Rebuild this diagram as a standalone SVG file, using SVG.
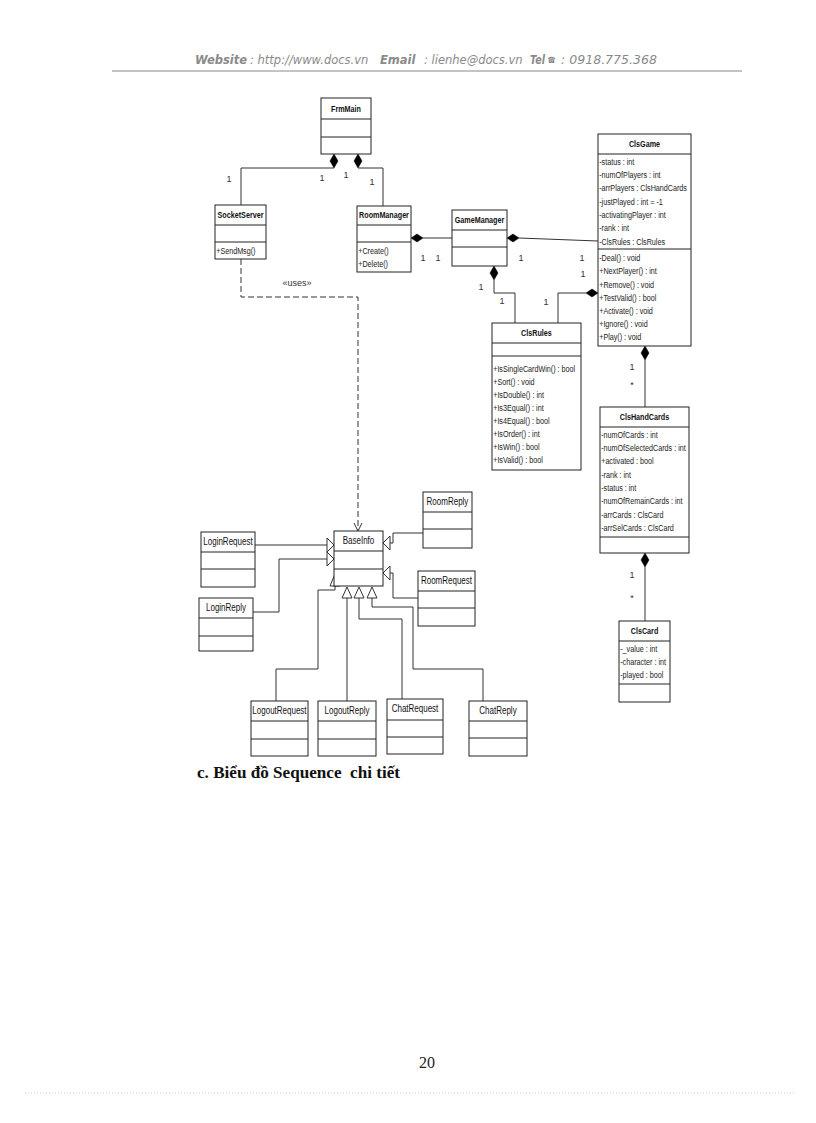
<svg xmlns="http://www.w3.org/2000/svg" width="816" height="1123" viewBox="0 0 816 1123">
<style>
.box{fill:#fff;stroke:#222;stroke-width:1}
.dv{stroke:#222;stroke-width:1}
.nb{font-family:"Liberation Sans",Arial,sans-serif;font-weight:bold;font-size:9px;text-anchor:middle;fill:#111}
.nr{font-family:"Liberation Sans",Arial,sans-serif;font-size:10px;text-anchor:middle;fill:#111}
.t{font-family:"Liberation Sans",Arial,sans-serif;font-size:9px;fill:#222}
.ml{font-family:"Liberation Sans",Arial,sans-serif;font-size:9px;fill:#333}
.c{fill:none;stroke:#333;stroke-width:1}
.dash{stroke-dasharray:6 3}
.dia{fill:#000;stroke:#000;stroke-width:0.5}
.tri{fill:#fff;stroke:#333;stroke-width:1}
.hd{font-family:"DejaVu Sans",Verdana,sans-serif;font-style:italic;font-size:11.5px;fill:#8a8a8a}
.hb{font-weight:bold}
</style>
<rect width="816" height="1123" fill="#fff"/>

<g id="header">
<text class="hd" y="64"><tspan class="hb" x="195">Website</tspan><tspan x="250">: http://www.docs.vn</tspan><tspan class="hb" x="380">Email</tspan><tspan x="424">: lienhe@docs.vn</tspan></text>
<text class="hd hb" x="530" y="64" textLength="15" lengthAdjust="spacingAndGlyphs">Tel</text>
<text x="547.5" y="63" font-family="'DejaVu Sans',sans-serif" font-size="8.5" fill="#8a8a8a" textLength="8" lengthAdjust="spacingAndGlyphs">☎</text>
<text class="hd" x="561" y="64" textLength="96" lengthAdjust="spacingAndGlyphs">: 0918.775.368</text>
<line x1="112" y1="71" x2="742" y2="71" stroke="#888" stroke-width="1"/>
</g>

<g id="connectors">
<polygon class="dia" points="334,154 338,161 334,168 330,161"/>
<path class="c" d="M334,168 H241 V205"/>
<polygon class="dia" points="358,154 362,161 358,168 354,161"/>
<path class="c" d="M358,168 H383 V206"/>
<polygon class="dia" points="411,238 417,234 423,238 417,242"/>
<path class="c" d="M423,238 H452"/>
<polygon class="dia" points="507,238 513,234 519,238 513,242"/>
<path class="c" d="M519,238 L598,241"/>
<polygon class="dia" points="494,266 498,273 494,280 490,273"/>
<path class="c" d="M494,280 V293 H515 V323"/>
<polygon class="dia" points="598,293 592,289 586,293 592,297"/>
<path class="c" d="M586,293 H558 V323"/>
<polygon class="dia" points="645,346 649,353 645,360 641,353"/>
<path class="c" d="M645,360 V407"/>
<polygon class="dia" points="645,553 649,560 645,567 641,560"/>
<path class="c" d="M645,567 V621"/>
<path class="c dash" d="M241,259 V297 H358 V530"/>
<path class="c" d="M354,523 L358,531 L362,523"/>
<text class="ml" x="297" y="286" text-anchor="middle" font-size="8">«uses»</text>
<path class="c" d="M255,545 H327"/>
<polygon class="tri" points="334,545 327,538 327,552"/>
<path class="c" d="M253,612 H279 V559 H327"/>
<polygon class="tri" points="334,559 327,552 327,566"/>
<path class="c" d="M423,533 H393 V543 H390"/>
<polygon class="tri" points="383,543 390,536 390,550"/>
<path class="c" d="M418,598 H393 V573 H390"/>
<polygon class="tri" points="383,573 390,566 390,580"/>
<path class="c" d="M335,586 V590 H318 V669 H276 V701"/>
<polygon class="tri" points="335,574 340,586 330,586"/>
<path class="c" d="M347,598 V701"/>
<polygon class="tri" points="347,587 352,598 342,598"/>
<path class="c" d="M359,598 V619 H402 V699"/>
<polygon class="tri" points="359,587 364,598 354,598"/>
<path class="c" d="M372,598 V607 H413 V669 H483 V701"/>
<polygon class="tri" points="372,587 377,598 367,598"/>
<text class="ml" x="229" y="182" text-anchor="middle">1</text>
<text class="ml" x="322" y="181" text-anchor="middle">1</text>
<text class="ml" x="346" y="178" text-anchor="middle">1</text>
<text class="ml" x="372" y="185" text-anchor="middle">1</text>
<text class="ml" x="423" y="261" text-anchor="middle">1</text>
<text class="ml" x="438" y="261" text-anchor="middle">1</text>
<text class="ml" x="521" y="261" text-anchor="middle">1</text>
<text class="ml" x="582" y="261" text-anchor="middle">1</text>
<text class="ml" x="583" y="277" text-anchor="middle">1</text>
<text class="ml" x="481" y="290" text-anchor="middle">1</text>
<text class="ml" x="502" y="304" text-anchor="middle">1</text>
<text class="ml" x="546" y="305" text-anchor="middle">1</text>
<text class="ml" x="632" y="370" text-anchor="middle">1</text>
<text class="ml" x="632" y="388" text-anchor="middle">*</text>
<text class="ml" x="632" y="578" text-anchor="middle">1</text>
<text class="ml" x="632" y="601" text-anchor="middle">*</text>
</g>

<g id="FrmMain">
<rect class="box" x="321" y="98" width="50" height="56"/>
<line class="dv" x1="321" y1="119" x2="371" y2="119"/>
<line class="dv" x1="321" y1="137" x2="371" y2="137"/>
<g transform="translate(321,0) scale(0.8,1)"><text class="nb" x="31.25" y="112">FrmMain</text></g>
</g>

<g id="SocketServer">
<rect class="box" x="215" y="205" width="51" height="54"/>
<line class="dv" x1="215" y1="225" x2="266" y2="225"/>
<line class="dv" x1="215" y1="242" x2="266" y2="242"/>
<g transform="translate(215,0) scale(0.8,1)"><text class="nb" x="31.9" y="218">SocketServer</text><text class="t" x="1.5" y="254">+SendMsg()</text></g>
</g>

<g id="RoomManager">
<rect class="box" x="357" y="206" width="54" height="66"/>
<line class="dv" x1="357" y1="225" x2="411" y2="225"/>
<line class="dv" x1="357" y1="242" x2="411" y2="242"/>
<g transform="translate(357,0) scale(0.8,1)"><text class="nb" x="33.75" y="218">RoomManager</text><text class="t" x="1.5" y="254">+Create()</text><text class="t" x="1.5" y="267">+Delete()</text></g>
</g>

<g id="GameManager">
<rect class="box" x="452" y="210" width="55" height="56"/>
<line class="dv" x1="452" y1="230" x2="507" y2="230"/>
<line class="dv" x1="452" y1="247" x2="507" y2="247"/>
<g transform="translate(452,0) scale(0.8,1)"><text class="nb" x="34.4" y="223">GameManager</text></g>
</g>

<g id="ClsGame">
<rect class="box" x="598" y="134" width="93" height="212"/>
<line class="dv" x1="598" y1="154" x2="691" y2="154"/>
<line class="dv" x1="598" y1="249" x2="691" y2="249"/>
<g transform="translate(598,0) scale(0.8,1)">
<text class="nb" x="58.1" y="147">ClsGame</text>
<text class="t" x="1.5" y="165">-status : int</text>
<text class="t" x="1.5" y="178">-numOfPlayers : int</text>
<text class="t" x="1.5" y="191">-arrPlayers : ClsHandCards</text>
<text class="t" x="1.5" y="205">-justPlayed : int = -1</text>
<text class="t" x="1.5" y="218">-activatingPlayer : int</text>
<text class="t" x="1.5" y="231">-rank : int</text>
<text class="t" x="1.5" y="245">-ClsRules : ClsRules</text>
<text class="t" x="1.5" y="261">-Deal() : void</text>
<text class="t" x="1.5" y="274">+NextPlayer() : int</text>
<text class="t" x="1.5" y="288">+Remove() : void</text>
<text class="t" x="1.5" y="301">+TestValid() : bool</text>
<text class="t" x="1.5" y="314">+Activate() : void</text>
<text class="t" x="1.5" y="327">+Ignore() : void</text>
<text class="t" x="1.5" y="340">+Play() : void</text>
</g>
</g>

<g id="ClsRules">
<rect class="box" x="492" y="323" width="89" height="147"/>
<line class="dv" x1="492" y1="343" x2="581" y2="343"/>
<line class="dv" x1="492" y1="356" x2="581" y2="356"/>
<g transform="translate(492,0) scale(0.8,1)">
<text class="nb" x="55.6" y="336">ClsRules</text>
<text class="t" x="1.5" y="372">+IsSingleCardWin() : bool</text>
<text class="t" x="1.5" y="385">+Sort() : void</text>
<text class="t" x="1.5" y="398">+IsDouble() : int</text>
<text class="t" x="1.5" y="411">+Is3Equal() : int</text>
<text class="t" x="1.5" y="424">+Is4Equal() : bool</text>
<text class="t" x="1.5" y="437">+IsOrder() : int</text>
<text class="t" x="1.5" y="450">+IsWin() : bool</text>
<text class="t" x="1.5" y="463">+IsValid() : bool</text>
</g>
</g>

<g id="ClsHandCards">
<rect class="box" x="600" y="407" width="89" height="146"/>
<line class="dv" x1="600" y1="427" x2="689" y2="427"/>
<line class="dv" x1="600" y1="537" x2="689" y2="537"/>
<g transform="translate(600,0) scale(0.8,1)">
<text class="nb" x="55.6" y="420">ClsHandCards</text>
<text class="t" x="1.5" y="438">-numOfCards : int</text>
<text class="t" x="1.5" y="451">-numOfSelectedCards : int</text>
<text class="t" x="1.5" y="464">+activated : bool</text>
<text class="t" x="1.5" y="478">-rank : int</text>
<text class="t" x="1.5" y="491">-status : int</text>
<text class="t" x="1.5" y="504">-numOfRemainCards : int</text>
<text class="t" x="1.5" y="518">-arrCards : ClsCard</text>
<text class="t" x="1.5" y="531">-arrSelCards : ClsCard</text>
</g>
</g>

<g id="ClsCard">
<rect class="box" x="619" y="621" width="51" height="81"/>
<line class="dv" x1="619" y1="641" x2="670" y2="641"/>
<line class="dv" x1="619" y1="684" x2="670" y2="684"/>
<g transform="translate(619,0) scale(0.8,1)">
<text class="nb" x="31.9" y="634">ClsCard</text>
<text class="t" x="1.5" y="652">-_value : int</text>
<text class="t" x="1.5" y="665">-character : int</text>
<text class="t" x="1.5" y="678">-played : bool</text>
</g>
</g>

<g id="BaseInfo">
<rect class="box" x="334" y="531" width="49" height="55"/>
<line class="dv" x1="334" y1="551" x2="383" y2="551"/>
<line class="dv" x1="334" y1="569" x2="383" y2="569"/>
<g transform="translate(334,0) scale(0.8,1)"><text class="nr" x="30.6" y="544">BaseInfo</text></g>
</g>

<g id="LoginRequest">
<rect class="box" x="201" y="532" width="54" height="55"/>
<line class="dv" x1="201" y1="552" x2="255" y2="552"/>
<line class="dv" x1="201" y1="569" x2="255" y2="569"/>
<g transform="translate(201,0) scale(0.8,1)"><text class="nr" x="33.75" y="545">LoginRequest</text></g>
</g>

<g id="LoginReply">
<rect class="box" x="199" y="598" width="54" height="53"/>
<line class="dv" x1="199" y1="618" x2="253" y2="618"/>
<line class="dv" x1="199" y1="636" x2="253" y2="636"/>
<g transform="translate(199,0) scale(0.8,1)"><text class="nr" x="33.75" y="611">LoginReply</text></g>
</g>

<g id="RoomReply">
<rect class="box" x="423" y="492" width="49" height="56"/>
<line class="dv" x1="423" y1="512" x2="472" y2="512"/>
<line class="dv" x1="423" y1="529" x2="472" y2="529"/>
<g transform="translate(423,0) scale(0.8,1)"><text class="nr" x="30.6" y="505">RoomReply</text></g>
</g>

<g id="RoomRequest">
<rect class="box" x="418" y="571" width="57" height="55"/>
<line class="dv" x1="418" y1="591" x2="475" y2="591"/>
<line class="dv" x1="418" y1="608" x2="475" y2="608"/>
<g transform="translate(418,0) scale(0.8,1)"><text class="nr" x="35.6" y="584">RoomRequest</text></g>
</g>

<g id="LogoutRequest">
<rect class="box" x="251" y="701" width="57" height="55"/>
<line class="dv" x1="251" y1="721" x2="308" y2="721"/>
<line class="dv" x1="251" y1="739" x2="308" y2="739"/>
<g transform="translate(251,0) scale(0.8,1)"><text class="nr" x="35.6" y="714">LogoutRequest</text></g>
</g>

<g id="LogoutReply">
<rect class="box" x="318" y="701" width="58" height="55"/>
<line class="dv" x1="318" y1="721" x2="376" y2="721"/>
<line class="dv" x1="318" y1="739" x2="376" y2="739"/>
<g transform="translate(318,0) scale(0.8,1)"><text class="nr" x="36.25" y="714">LogoutReply</text></g>
</g>

<g id="ChatRequest">
<rect class="box" x="387" y="699" width="56" height="55"/>
<line class="dv" x1="387" y1="720" x2="443" y2="720"/>
<line class="dv" x1="387" y1="737" x2="443" y2="737"/>
<g transform="translate(387,0) scale(0.8,1)"><text class="nr" x="35" y="712">ChatRequest</text></g>
</g>

<g id="ChatReply">
<rect class="box" x="469" y="701" width="58" height="55"/>
<line class="dv" x1="469" y1="721" x2="527" y2="721"/>
<line class="dv" x1="469" y1="738" x2="527" y2="738"/>
<g transform="translate(469,0) scale(0.8,1)"><text class="nr" x="36.25" y="714">ChatReply</text></g>
</g>

<g id="caption">
<text x="197" y="778" xml:space="preserve" textLength="203" lengthAdjust="spacingAndGlyphs" font-family="'Liberation Serif','Times New Roman',serif" font-size="17" font-weight="bold" fill="#111">c. Biểu đồ Sequence  chi tiết</text>
</g>

<g id="footer">
<text x="427" y="1068" text-anchor="middle" font-family="'Liberation Serif','Times New Roman',serif" font-size="16" fill="#222">20</text>
<line x1="25" y1="1093" x2="795" y2="1093" stroke="#ccc" stroke-width="1" stroke-dasharray="1 2"/>
</g>
</svg>
